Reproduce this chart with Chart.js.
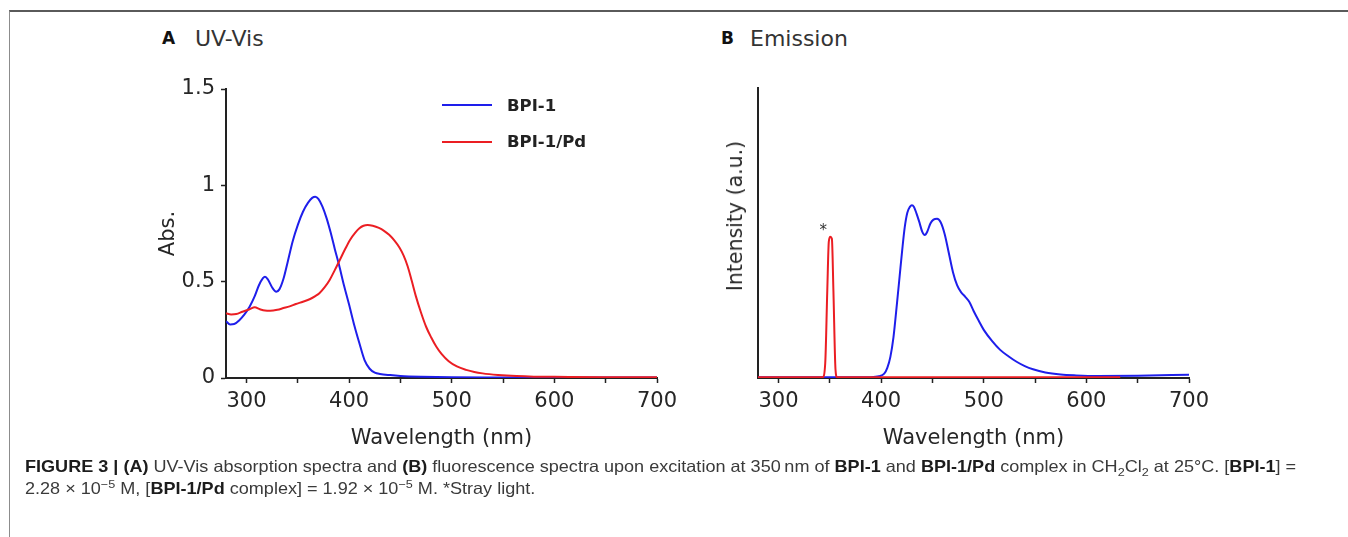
<!DOCTYPE html>
<html><head><meta charset="utf-8">
<script src="https://cdn.jsdelivr.net/npm/chart.js@4.4.1/dist/chart.umd.min.js"></script>
<style>
html,body{margin:0;padding:0;background:#fff;}
body{width:1348px;height:537px;overflow:hidden;position:relative;font-family:"DejaVu Sans",sans-serif;}
.frame{position:absolute;left:9px;top:10px;width:1345px;height:540px;border-top:2px solid #5a5a5a;border-left:1.5px solid #8c8c8c;}
.t{position:absolute;white-space:nowrap;line-height:normal;}
canvas{position:absolute;}
.cap{position:absolute;left:25px;white-space:nowrap;font-family:"Liberation Sans Narrow","Liberation Sans",Arial,sans-serif;font-size:16.5px;line-height:20px;color:#3a3a3a;transform-origin:0 0;}
.cap b{color:#1c1c1c;}
.cap sub,.cap sup{font-size:70%;line-height:0;}
.lg{position:absolute;height:2px;width:50px;}
</style>
</head><body>
<div class="frame"></div>

<div class="t" style="left:162px;top:28px;font-size:17px;font-weight:bold;color:#111;">A</div>
<div class="t" style="left:195px;top:25.5px;font-size:22px;color:#333;">UV-Vis</div>
<div class="t" style="left:721px;top:28px;font-size:17px;font-weight:bold;color:#111;">B</div>
<div class="t" style="left:750px;top:25.5px;font-size:22px;color:#333;">Emission</div>

<canvas id="chartA" width="547" height="400" style="left:140px;top:60px;"></canvas>
<canvas id="chartB" width="520" height="400" style="left:700px;top:60px;"></canvas>

<div class="lg" style="left:442px;top:104px;background:rgb(30,30,235);"></div>
<div class="t" style="left:507px;top:95.5px;font-size:16.5px;font-weight:bold;color:#222;">BPI-1</div>
<div class="lg" style="left:442px;top:140.5px;background:rgb(235,30,35);"></div>
<div class="t" style="left:507px;top:132px;font-size:16.5px;font-weight:bold;color:#222;">BPI-1/Pd</div>

<div class="t" style="left:735px;top:216px;font-size:20.5px;color:#2b2b2b;transform:translate(-50%,-50%) rotate(-90deg);">Intensity (a.u.)</div>

<div class="cap" id="cap1" style="top:456px;"><b>FIGURE 3 | (A)</b> UV-Vis absorption spectra and <b>(B)</b> fluorescence spectra upon excitation at 350&thinsp;nm of <b>BPI-1</b> and <b>BPI-1/Pd</b> complex in CH<sub>2</sub>Cl<sub>2</sub> at 25°C. [<b>BPI-1</b>] =</div>
<div class="cap" id="cap2" style="top:478px;">2.28 × 10<sup>−5</sup> M, [<b>BPI-1/Pd</b> complex] = 1.92 × 10<sup>−5</sup> M. *Stray light.</div>

<script>
// ---------- DATA ----------
const xTickValues = [300, 350, 400, 450, 500, 550, 600, 650, 700];
const absTickValues = [0, 0.5, 1, 1.5];

// UV-Vis absorption, BPI-1
const absWlBPI1 = [280,284,288,293,298,303,308,312,316,318,321,325,329,332,336,340,345,350,355,360,364,367,370,374,378,382,386,390,395,400,405,410,415,420,425,430,440,450,470,500,550,600,650,700];
const absBPI1   = [0.295,0.278,0.28,0.30,0.33,0.37,0.425,0.48,0.518,0.526,0.51,0.47,0.448,0.46,0.515,0.60,0.71,0.795,0.863,0.91,0.935,0.941,0.93,0.89,0.83,0.755,0.67,0.59,0.48,0.38,0.274,0.18,0.093,0.048,0.028,0.021,0.015,0.011,0.007,0.004,0.003,0.002,0.002,0.002];

// UV-Vis absorption, BPI-1/Pd
const absWlBPI1Pd = [280,285,290,296,303,308,313,318,323,330,336,342,348,355,362,367,371,376,381,386,391,396,401,406,410,414,418,423,429,434,439,444,449,453,457,461,465,470,475,480,485,490,497,505,514,522,530,545,563,580,600,650,700];
const absBPI1Pd   = [0.336,0.33,0.332,0.344,0.357,0.367,0.357,0.35,0.349,0.354,0.363,0.372,0.384,0.396,0.41,0.425,0.44,0.47,0.509,0.56,0.614,0.668,0.718,0.755,0.777,0.79,0.794,0.79,0.779,0.764,0.743,0.714,0.677,0.636,0.58,0.505,0.425,0.34,0.266,0.21,0.162,0.125,0.087,0.06,0.042,0.031,0.024,0.016,0.01,0.007,0.006,0.004,0.004];

// Emission (a.u.), BPI-1
const emWlBPI1 = [280,390,398,403,406,409,412,415.5,418,420.5,423,425.5,428,430,432,434.5,437,440,442.5,445,448,451,454.5,458,462,466,470,474,478,482,486,490,495,500,508,516,524,532,540,548,560,575,590,610,650,700];
const emBPI1   = [0.003,0.003,0.006,0.015,0.035,0.073,0.14,0.26,0.35,0.44,0.52,0.57,0.59,0.596,0.59,0.567,0.54,0.505,0.493,0.505,0.533,0.546,0.549,0.537,0.495,0.43,0.365,0.32,0.295,0.28,0.262,0.232,0.198,0.166,0.128,0.097,0.075,0.056,0.041,0.03,0.019,0.012,0.009,0.007,0.008,0.011];

// Emission (a.u.), BPI-1/Pd (stray light at 350 nm)
const emWlBPI1Pd = [280,343,345.5,347.5,349,350.5,352,353.5,355.5,357,633];
const emBPI1Pd   = [0.003,0.003,0.05,0.3,0.47,0.487,0.48,0.3,0.03,0.003,0.003];

// ---------- STYLE ----------
const BLUE = 'rgb(30,30,235)';
const RED = 'rgb(235,30,35)';
const FONT = "'DejaVu Sans', sans-serif";
const toPts = (xs, ys) => xs.map((x, i) => ({x, y: ys[i]}));

function lineDs(label, pts, color, order) {
  return {label, data: pts, borderColor: color, backgroundColor: color, borderWidth: 2,
    pointRadius: 0, tension: 0.4, cubicInterpolationMode: 'monotone', fill: false, order};
}

function xAxis(titleText) {
  return {
    type: 'linear', min: 280, max: 700,
    afterBuildTicks: s => { s.ticks = xTickValues.map(v => ({value: v})); },
    afterFit: s => { s.height = 74; },
    grid: {drawOnChartArea: false, drawTicks: true, tickLength: 5, tickWidth: 1.5, tickColor: '#222'},
    border: {display: true, color: '#222', width: 2},
    ticks: {autoSkip: false, maxRotation: 0, padding: 6, color: '#262626',
      font: {family: FONT, size: 21}, callback: v => (v % 100 === 0 ? String(v) : '')},
    title: {display: true, text: titleText, color: '#262626', font: {family: FONT, size: 21},
      padding: {top: 0, bottom: 1}}
  };
}

const strayLabel = {
  id: 'strayLabel',
  afterDatasetsDraw(chart) {
    const ds = chart.data.datasets.find(d => d.label === 'BPI-1/Pd');
    if (!ds) return;
    const peak = ds.data.reduce((a, b) => (b.y > a.y ? b : a));
    const ctx = chart.ctx;
    ctx.save();
    ctx.font = "15px 'DejaVu Sans', sans-serif";
    ctx.fillStyle = '#333';
    ctx.textAlign = 'center';
    ctx.textBaseline = 'middle';
    ctx.fillText('*', chart.scales.x.getPixelForValue(peak.x) - 7, chart.scales.y.getPixelForValue(peak.y) - 6);
    ctx.restore();
  }
};

Chart.defaults.animation = false;

new Chart(document.getElementById('chartA'), {
  type: 'line',
  data: {datasets: [
    lineDs('BPI-1', toPts(absWlBPI1, absBPI1), BLUE, 1),
    lineDs('BPI-1/Pd', toPts(absWlBPI1Pd, absBPI1Pd), RED, 0)
  ]},
  options: {
    responsive: false, animation: false, events: [],
    layout: {padding: {left: 0, right: 30, top: 29, bottom: 8}},
    plugins: {legend: {display: false}, tooltip: {enabled: false}},
    scales: {
      x: xAxis('Wavelength (nm)'),
      y: {
        type: 'linear', min: 0, max: 1.5,
        afterBuildTicks: s => { s.ticks = absTickValues.map(v => ({value: v})); },
        afterFit: s => { s.width = 86; },
        grid: {drawOnChartArea: false, drawTicks: true, tickLength: 5, tickWidth: 1.5, tickColor: '#222'},
        border: {display: true, color: '#222', width: 2},
        ticks: {padding: 6, color: '#262626', font: {family: FONT, size: 21}, callback: v => String(v)},
        title: {display: true, text: 'Abs.', color: '#262626', font: {family: FONT, size: 21},
          padding: {top: 16, bottom: 0}}
      }
    }
  }
});

new Chart(document.getElementById('chartB'), {
  type: 'line',
  data: {datasets: [
    lineDs('BPI-1', toPts(emWlBPI1, emBPI1), BLUE, 1),
    lineDs('BPI-1/Pd', toPts(emWlBPI1Pd, emBPI1Pd), RED, 0)
  ]},
  options: {
    responsive: false, animation: false, events: [],
    layout: {padding: {left: 0, right: 31, top: 28, bottom: 8}},
    plugins: {legend: {display: false}, tooltip: {enabled: false}},
    scales: {
      x: xAxis('Wavelength (nm)'),
      y: {
        type: 'linear', min: 0, max: 1,
        afterFit: s => { s.width = 58; },
        grid: {drawOnChartArea: false, drawTicks: false},
        border: {display: true, color: '#222', width: 2},
        ticks: {display: false},
        title: {display: false}
      }
    }
  },
  plugins: [strayLabel]
});

// fit caption lines to the printed width
(function () {
  const c1 = document.getElementById('cap1'), c2 = document.getElementById('cap2');
  const k = 1271 / c1.scrollWidth;
  c1.style.transform = 'scaleX(' + k + ')';
  c2.style.transform = 'scaleX(' + k + ')';
})();
</script>
</body></html>
